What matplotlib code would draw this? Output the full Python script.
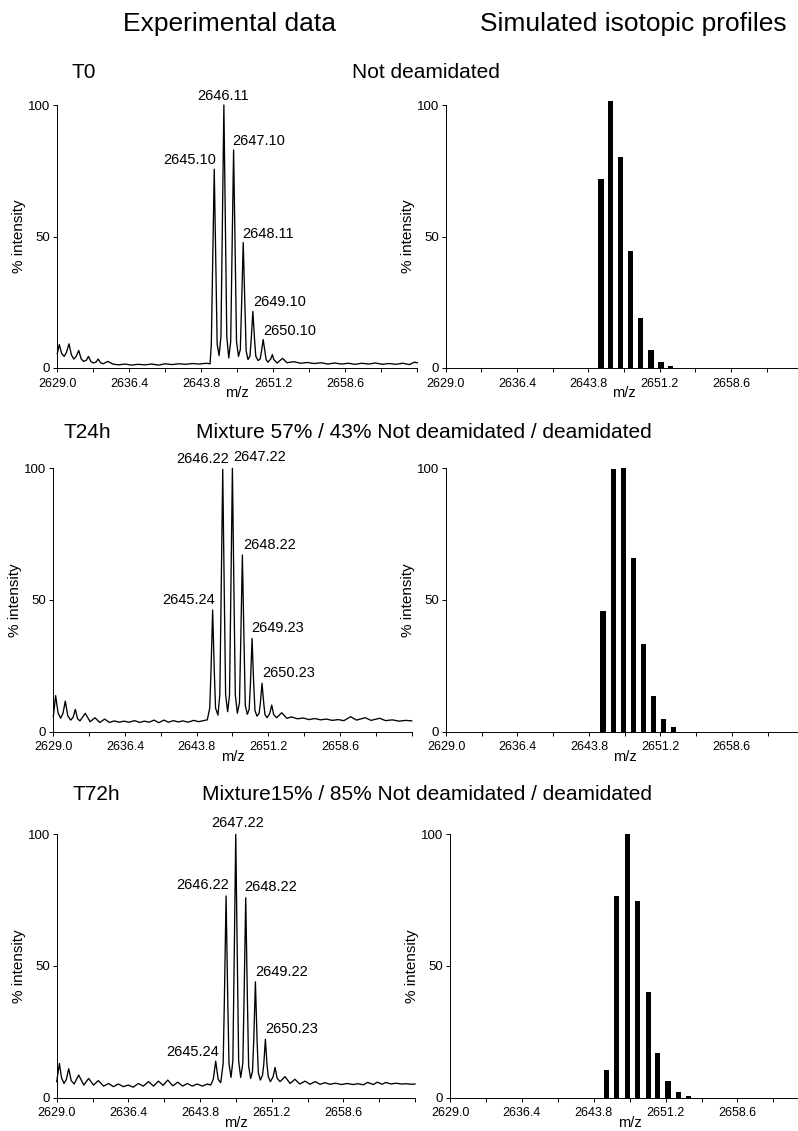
import numpy as np
import matplotlib
matplotlib.use("Agg")
import matplotlib.pyplot as plt

plt.rcParams["font.family"] = ["Liberation Sans", "DejaVu Sans"]

# ---- data ---------------------------------------------------------------
# experimental spectra: vertices of the profile trace as (m/z, % intensity)
t0_trace = [
    (2629.0, 5.5), (2629.2, 8.9), (2629.45, 5.5), (2629.7, 4.4), (2629.95, 6.0),
    (2630.2, 9.2), (2630.45, 5.0), (2630.7, 3.4), (2630.95, 4.5), (2631.2, 6.7),
    (2631.45, 3.5), (2631.7, 2.5), (2632.0, 3.0), (2632.2, 4.4), (2632.45, 2.5),
    (2632.7, 1.9), (2633.0, 2.3), (2633.2, 3.4), (2633.45, 2.0), (2633.7, 1.6),
    (2634.2, 2.5), (2634.7, 1.5), (2635.3, 1.2), (2636.0, 1.5), (2636.6, 1.1),
    (2637.3, 1.4), (2638.0, 1.2), (2638.7, 1.5), (2639.4, 1.1), (2640.1, 1.6),
    (2640.8, 1.3), (2641.5, 1.6), (2642.2, 1.4), (2642.9, 1.7), (2643.6, 1.5),
    (2644.3, 1.8), (2644.7, 1.6),
    (2644.83, 9.0), (2644.96, 38.0), (2645.13, 75.6), (2645.30, 38.0), (2645.43, 9.0),
    (2645.63, 4.7),
    (2645.82, 12.0), (2645.95, 50.0), (2646.12, 100.0), (2646.29, 50.0), (2646.42, 12.0),
    (2646.62, 3.8),
    (2646.82, 10.0), (2646.95, 42.0), (2647.12, 82.9), (2647.29, 42.0), (2647.42, 10.0),
    (2647.62, 4.4),
    (2647.81, 7.0), (2647.94, 24.0), (2648.11, 47.7), (2648.28, 24.0), (2648.41, 6.5),
    (2648.6, 3.2),
    (2648.8, 4.5), (2648.93, 11.0), (2649.1, 21.5), (2649.27, 11.0), (2649.4, 4.5),
    (2649.63, 2.8),
    (2649.86, 3.5), (2649.99, 6.5), (2650.16, 10.8), (2650.33, 6.5), (2650.46, 3.2),
    (2650.65, 2.2), (2650.95, 3.5), (2651.1, 5.1), (2651.25, 3.2), (2651.6, 1.9),
    (2652.15, 3.7), (2652.6, 2.0),
    (2653.3, 2.4), (2654.0, 1.8), (2654.7, 2.1), (2655.4, 1.7), (2656.1, 2.0),
    (2656.8, 1.5), (2657.5, 1.9), (2658.2, 1.5), (2658.9, 1.8), (2659.6, 1.4),
    (2660.3, 1.8), (2661.0, 1.5), (2661.7, 1.9), (2662.4, 1.4), (2663.1, 1.7),
    (2663.8, 1.4), (2664.5, 1.8), (2665.2, 1.3), (2665.7, 2.2), (2666.0, 2.0),
]

t24_trace = [
    (2629.0, 5.7), (2629.24, 13.7), (2629.5, 7.0), (2629.76, 5.1), (2630.0, 7.0),
    (2630.24, 11.6), (2630.5, 6.0), (2630.8, 4.4), (2631.05, 5.5), (2631.27, 8.5),
    (2631.5, 5.0), (2631.75, 4.1), (2632.3, 7.0), (2632.8, 3.8), (2633.3, 5.3),
    (2633.8, 3.5), (2634.3, 4.8), (2634.8, 3.5), (2635.3, 4.1), (2635.8, 3.6),
    (2636.3, 4.0), (2636.8, 3.6), (2637.4, 4.2), (2637.9, 3.5), (2638.4, 4.0),
    (2638.9, 3.6), (2639.4, 4.4), (2639.9, 3.4), (2640.4, 4.4), (2640.9, 3.6),
    (2641.4, 4.2), (2641.9, 3.7), (2642.4, 4.1), (2642.9, 3.6), (2643.5, 4.3),
    (2644.0, 3.8), (2644.5, 4.2), (2644.9, 4.5),
    (2645.15, 9.0), (2645.28, 23.0), (2645.45, 46.2), (2645.62, 23.0), (2645.75, 9.0),
    (2646.0, 6.3),
    (2646.19, 14.0), (2646.32, 50.0), (2646.49, 99.6), (2646.66, 50.0), (2646.79, 14.0),
    (2647.0, 7.6),
    (2647.19, 14.0), (2647.32, 50.0), (2647.49, 100.0), (2647.66, 50.0), (2647.79, 14.0),
    (2648.0, 7.0),
    (2648.22, 11.0), (2648.35, 34.0), (2648.52, 67.1), (2648.69, 34.0), (2648.82, 10.0),
    (2649.03, 6.6),
    (2649.22, 8.5), (2649.35, 18.0), (2649.52, 35.4), (2649.69, 18.0), (2649.82, 8.0),
    (2650.03, 5.9),
    (2650.25, 7.0), (2650.38, 11.0), (2650.55, 18.4), (2650.72, 11.0), (2650.85, 6.5),
    (2651.07, 5.3), (2651.35, 7.0), (2651.55, 10.1), (2651.75, 6.5), (2652.06, 5.3),
    (2652.58, 7.2), (2653.1, 5.1),
    (2653.6, 5.6), (2654.2, 4.9), (2654.8, 5.2), (2655.4, 4.6), (2656.0, 5.0),
    (2656.6, 4.5), (2657.2, 4.8), (2657.8, 4.3), (2658.4, 4.6), (2659.0, 4.2),
    (2659.7, 5.7), (2660.3, 4.4), (2661.2, 5.3), (2661.8, 4.3), (2662.7, 5.1),
    (2663.3, 4.2), (2664.0, 4.5), (2664.7, 4.0), (2665.4, 4.3), (2666.0, 4.1),
]

t72_trace = [
    (2629.0, 6.1), (2629.28, 13.0), (2629.5, 7.5), (2629.76, 5.4), (2630.0, 7.0),
    (2630.24, 11.0), (2630.5, 6.5), (2630.8, 5.2), (2631.27, 8.6), (2631.8, 4.8),
    (2632.3, 7.3), (2632.8, 4.8), (2633.3, 6.5), (2633.85, 4.4), (2634.37, 5.4),
    (2634.85, 4.2), (2635.37, 5.2), (2635.87, 4.2), (2636.4, 4.8), (2636.9, 4.0),
    (2637.43, 5.4), (2637.95, 4.4), (2638.47, 6.1), (2639.0, 4.4), (2639.5, 6.3),
    (2640.0, 4.7), (2640.46, 6.7), (2641.0, 4.5), (2641.5, 5.9), (2642.0, 4.4),
    (2642.5, 5.4), (2643.0, 4.4), (2643.5, 5.2), (2644.05, 4.4), (2644.56, 5.2),
    (2644.9, 4.8),
    (2645.17, 7.0), (2645.28, 10.0), (2645.42, 13.9), (2645.56, 10.0), (2645.67, 7.0),
    (2645.94, 5.7),
    (2646.19, 13.0), (2646.32, 38.0), (2646.49, 76.6), (2646.66, 38.0), (2646.79, 13.0),
    (2647.0, 7.7),
    (2647.19, 14.0), (2647.32, 50.0), (2647.49, 100.0), (2647.66, 50.0), (2647.79, 14.0),
    (2648.0, 7.7),
    (2648.22, 13.0), (2648.35, 38.0), (2648.52, 75.9), (2648.69, 38.0), (2648.82, 12.0),
    (2649.03, 7.3),
    (2649.22, 10.0), (2649.35, 22.0), (2649.52, 44.0), (2649.69, 22.0), (2649.82, 9.5),
    (2650.03, 6.7),
    (2650.25, 8.5), (2650.38, 12.5), (2650.55, 22.2), (2650.72, 12.5), (2650.85, 8.0),
    (2651.07, 6.1), (2651.35, 8.0), (2651.55, 11.5), (2651.75, 7.5), (2652.06, 6.1),
    (2652.58, 8.0), (2653.1, 5.4),
    (2653.6, 7.0), (2654.1, 5.2), (2654.65, 6.3), (2655.15, 5.1), (2655.68, 6.1),
    (2656.2, 5.1), (2656.7, 5.7), (2657.2, 5.1), (2657.8, 5.5), (2658.4, 5.0),
    (2659.0, 5.4), (2659.6, 5.0), (2660.1, 5.3), (2660.7, 4.9), (2661.1, 5.8),
    (2661.7, 5.0), (2662.1, 5.9), (2662.6, 5.1), (2663.0, 5.8), (2663.5, 5.2),
    (2664.0, 5.5), (2664.6, 5.2), (2665.1, 5.3), (2665.6, 5.1), (2666.0, 5.2),
]

# labelled peaks (m/z of apex, intensity of apex, label text)
t0_peak_mz = [2645.13, 2646.12, 2647.12, 2648.11, 2649.1, 2650.16]
t0_peak_int = [75.6, 100.0, 82.9, 47.7, 21.5, 10.8]
t0_peak_lbl = ["2645.10", "2646.11", "2647.10", "2648.11", "2649.10", "2650.10"]

t24_peak_mz = [2645.45, 2646.49, 2647.49, 2648.52, 2649.52, 2650.55]
t24_peak_int = [46.2, 99.6, 100.0, 67.1, 35.4, 18.4]
t24_peak_lbl = ["2645.24", "2646.22", "2647.22", "2648.22", "2649.23", "2650.23"]

t72_peak_mz = [2645.42, 2646.49, 2647.49, 2648.52, 2649.52, 2650.55]
t72_peak_int = [13.9, 76.6, 100.0, 75.9, 44.0, 22.2]
t72_peak_lbl = ["2645.24", "2646.22", "2647.22", "2648.22", "2649.22", "2650.23"]

# simulated isotopic profiles (stick positions and relative heights)
sim_t0_mz = [2645.12, 2646.12, 2647.16, 2648.2, 2649.24, 2650.28, 2651.32, 2652.35]
sim_t0_int = [71.8, 101.5, 80.1, 44.3, 19.2, 6.8, 2.3, 0.6]
sim_t24_mz = [2645.26, 2646.33, 2647.36, 2648.42, 2649.46, 2650.5, 2651.53, 2652.57]
sim_t24_int = [45.8, 99.6, 100.0, 65.8, 33.2, 13.7, 4.8, 1.8]
sim_t72_mz = [2645.13, 2646.16, 2647.26, 2648.32, 2649.42, 2650.38, 2651.44, 2652.54, 2653.57]
sim_t72_int = [10.5, 76.6, 100.0, 74.7, 40.0, 16.8, 6.5, 2.0, 0.8]

x_major = [2629.0, 2636.4, 2643.8, 2651.2, 2658.6, 2666.0]
x_major_lbl = ["2629.0", "2636.4", "2643.8", "2651.2", "2658.6", ""]
x_minor = [2632.7, 2640.1, 2647.5, 2654.9, 2662.3]
y_major = [0, 50, 100]

W, H = 798, 1131
fig = plt.figure(figsize=(W / 100, H / 100), dpi=100)


def add_ax(x0, x1, ytop, ybot):
    ax = fig.add_axes([x0 / W, 1 - ybot / H, (x1 - x0) / W, (ybot - ytop) / H])
    ax.set_xlim(2629.0, 2666.0)
    ax.set_ylim(0, 100)
    for s in ("top", "right"):
        ax.spines[s].set_visible(False)
    for s in ("left", "bottom"):
        ax.spines[s].set_linewidth(0.7)
    ax.set_xticks(x_major)
    ax.set_xticklabels(x_major_lbl)
    ax.set_xticks(x_minor, minor=True)
    ax.set_yticks(y_major)
    ax.set_yticklabels([str(v) for v in y_major])
    ax.tick_params(axis="x", which="both", direction="out", length=3, width=0.7,
                   labelsize=9, pad=4)
    ax.tick_params(axis="y", direction="out", length=3, width=0.7, labelsize=9.5, pad=2)
    ax.set_xlabel("m/z", fontsize=10.5)
    ax.xaxis.set_label_coords(0.5, -18 / (ybot - ytop))   # top of label, px below axis
    ax.set_ylabel("% intensity", fontsize=11)
    ax.yaxis.set_label_coords(-31 / (x1 - x0), 0.5)
    return ax


def spectrum(ax, trace, pk_mz, pk_int, pk_lbl, layout):
    mz, inten = zip(*trace)
    ax.plot(mz, inten, color="black", lw=0.95, clip_on=False)
    for x, y, s, (ha, dx, dy) in zip(pk_mz, pk_int, pk_lbl, layout):
        ax.annotate(s, (x, y), xytext=(dx, dy), textcoords="offset pixels",
                    ha=ha, va="bottom", fontsize=10.5)


def sticks(ax, mz, inten):
    ax.bar(mz, inten, width=0.55, color="black", clip_on=False)


rows = [
    # left box (x0, x1), right box (x0, x1), (y of 100, y of 0) in pixels
    ((57.3, 417.3), (445.7, 802.4), (105.0, 368.0)),
    ((53.3, 411.7), (446.0, 803.3), (468.3, 731.7)),
    ((56.7, 415.0), (450.0, 809.3), (834.3, 1097.7)),
]
spectra = [
    (t0_trace, t0_peak_mz, t0_peak_int, t0_peak_lbl,
     [("right", 2, 2), ("center", -1, 2), ("left", -1, 2),
      ("left", -1, 2), ("left", 0, 2), ("left", 0, 2)]),
    (t24_trace, t24_peak_mz, t24_peak_int, t24_peak_lbl,
     [("right", 2, 3), ("right", 6, 3), ("left", 1, 4),
      ("left", 1, 3), ("left", -1, 3), ("left", 0, 3)]),
    (t72_trace, t72_peak_mz, t72_peak_int, t72_peak_lbl,
     [("right", 3, 2), ("right", 3, 4), ("center", 2, 4),
      ("left", -1, 4), ("left", 0, 3), ("left", 0, 3)]),
]
sims = [(sim_t0_mz, sim_t0_int), (sim_t24_mz, sim_t24_int), (sim_t72_mz, sim_t72_int)]

for (lx, rx, yr), spec, sim in zip(rows, spectra, sims):
    axl = add_ax(lx[0], lx[1], yr[0], yr[1])
    spectrum(axl, *spec)
    axr = add_ax(rx[0], rx[1], yr[0], yr[1])
    sticks(axr, *sim)


# headings
def ftext(x, y, s, size, ha="left"):
    fig.text(x / W, 1 - y / H, s, fontsize=size, ha=ha, va="center")


ftext(229.5, 24, "Experimental data", 19, ha="center")
ftext(633, 24, "Simulated isotopic profiles", 19, ha="center")
ftext(71.7, 72.5, "T0", 15)
ftext(351.7, 72.5, "Not deamidated", 15)
ftext(63, 433, "T24h", 15)
ftext(196, 433, "Mixture 57% / 43% Not deamidated / deamidated", 15)
ftext(72.7, 795, "T72h", 15)
ftext(201.7, 795, "Mixture15% / 85% Not deamidated / deamidated", 15)

fig.savefig("out.png", dpi=100)
